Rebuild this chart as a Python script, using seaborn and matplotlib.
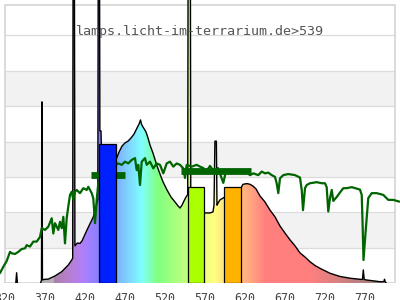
import numpy as np
import matplotlib
matplotlib.use("Agg")
import matplotlib.pyplot as plt
import seaborn as sns
from matplotlib.patches import Polygon

# ---------------- data ----------------
# lamp spectrum (relative intensity, grid lines every 10 units)
lamp_nm = [364.5, 365.6, 366.2, 366.8, 370.0, 374.1, 382.5, 390.9, 399.1, 403.4,
           404.6, 405.2, 406.6, 407.4, 410.4, 413.75, 416.25, 422.5, 430.4, 436.0,
           436.7, 438.0, 438.6, 440.0, 440.5, 445.0, 452.0, 458.0, 459.6, 462.5,
           466.25, 470.0, 473.75, 477.5, 481.25, 485.0, 487.5, 489.4, 490.6, 492.5,
           496.25, 498.75, 501.25, 505.0, 510.0, 513.75, 517.5, 522.5, 527.5, 532.5,
           536.25, 538.75, 541.25, 543.75, 546.25, 548.4, 549.0, 551.6, 552.2, 558.0,
           564.0, 570.0, 576.25, 580.0, 581.25, 582.4, 584.2, 585.0, 586.25, 588.75,
           592.5, 600.0, 608.0, 615.0, 617.5, 622.5, 626.25, 630.0, 633.75, 638.75,
           645.0, 651.25, 657.5, 663.75, 670.0, 676.25, 682.5, 688.75, 695.0, 701.25,
           707.5, 713.75, 726.25, 738.75, 751.25, 763.75, 766.8, 767.9, 769.0, 772.0,
           788.75, 793.6, 794.4, 795.2, 796.5]
lamp_val = [0.0, 0.8, 51.2, 0.9, 1.05, 1.1, 2.0, 3.2, 5.1, 6.5,
            7.0, 110, 110, 10.5, 11.3, 11.2, 11.9, 15.0, 18.7, 23.5,
            110, 110, 43.0, 43.0, 38.0, 36.0, 36.0, 35.0, 35.3, 37.0,
            38.7, 39.6, 40.1, 41.0, 42.1, 43.8, 44.9, 46.1, 44.9, 44.1,
            42.7, 41.0, 39.0, 36.7, 33.1, 30.8, 28.6, 26.3, 24.3, 22.9,
            21.8, 21.2, 22.0, 23.2, 24.3, 25.0, 110, 110, 26.0, 23.5,
            21.0, 19.8, 19.8, 20.1, 22.0, 40.1, 40.1, 22.0, 22.6, 23.5,
            24.0, 25.0, 26.2, 26.9, 27.9, 28.1, 27.9, 27.4, 26.6, 24.6,
            22.9, 20.6, 18.7, 16.1, 14.1, 12.2, 10.5, 8.5, 7.35, 6.0,
            4.95, 4.15, 2.75, 1.85, 1.35, 1.05, 1.0, 3.7, 1.0, 0.85,
            0.37, 0.4, 1.05, 0.4, 0.0]

# small UV line
uv_nm = [333.5, 334.5, 335.5]
uv_val = [0.0, 2.9, 0.0]

# reference (daylight) spectrum, green line
sun_nm = [313.75, 317.9, 322.1, 326.25, 328.4, 332.5, 336.6, 340.9, 345.0, 347.1,
          351.25, 355.4, 359.6, 363.75, 365.9, 370.0, 374.1, 378.4, 380.4, 382.5,
          386.6, 388.75, 390.9, 392.9, 395.0, 397.1, 399.1, 401.25, 403.4, 405.4,
          407.5, 409.6, 413.75, 417.9, 422.1, 424.1, 428.4, 430.4, 432.5, 434.6,
          436.6, 447.5, 458.75, 461.6, 465.9, 470.0, 474.1, 478.4, 482.5, 484.6,
          486.6, 488.75, 490.9, 495.0, 497.1, 501.25, 505.4, 509.6, 513.75, 517.9,
          522.1, 526.25, 530.4, 534.6, 538.75, 542.9, 545.0, 547.1, 553.4, 559.6,
          563.75, 567.9, 571.25, 576.25, 580.0, 583.75, 586.25, 592.9, 596.25, 601.25,
          613.75, 621.25, 626.25, 630.4, 636.6, 640.9, 645.0, 649.1, 653.4, 657.5,
          659.6, 661.6, 663.75, 667.9, 674.1, 682.5, 688.75, 690.9, 692.5, 695.0,
          697.1, 701.25, 709.6, 715.9, 720.0, 722.1, 724.1, 726.25, 728.4, 730.4,
          734.6, 738.75, 742.9, 747.1, 753.4, 759.6, 763.75, 765.9, 767.1, 768.1,
          770.0, 771.25, 774.1, 778.4, 784.6, 792.9, 799.1, 805.4, 812.9]
sun_val = [2.8, 4.6, 6.2, 8.8, 8.4, 8.2, 8.8, 9.6, 9.8, 10.7,
           10.3, 11.7, 11.7, 13.0, 15.5, 15.0, 15.9, 18.3, 14.0, 16.9,
           15.0, 17.3, 15.5, 18.7, 11.2, 18.3, 21.6, 24.9, 25.8, 23.5,
           25.8, 26.3, 25.4, 26.8, 26.3, 27.2, 25.4, 23.9, 16.9, 23.5,
           28.2, 31.9, 33.4, 33.8, 33.4, 34.3, 33.8, 34.8, 35.3, 31.9,
           33.4, 27.7, 34.3, 35.3, 33.4, 34.3, 32.4, 33.8, 33.4, 31.0,
           33.8, 34.3, 32.9, 33.8, 33.4, 32.4, 29.7, 33.4, 32.9, 33.4,
           32.9, 32.5, 31.4, 33.1, 31.9, 31.4, 32.5, 28.3, 31.7, 31.4,
           31.7, 31.4, 30.5, 31.0, 30.5, 31.5, 31.0, 31.2, 30.5, 30.0,
           28.2, 25.4, 29.6, 30.5, 30.8, 30.5, 29.8, 26.3, 20.6, 26.8,
           27.7, 28.2, 28.5, 28.2, 28.2, 27.1, 20.2, 24.0, 26.3, 23.2,
           24.3, 25.6, 26.8, 26.8, 27.1, 26.7, 26.4, 24.9, 15.9, 6.5,
           12.2, 15.9, 24.0, 25.4, 25.4, 24.9, 23.5, 23.5, 23.0]

# dark green band markers
band_start = [427.5, 540.0]
band_end = [470.0, 628.0]
band_level = [30.5, 31.8]

# coloured bars
bar_start = [437.9, 549.1, 594.1]
bar_end = [459.1, 569.1, 614.6]
bar_level = [39.3, 27.2, 27.05]
bar_colors = ["#0020ff", "#aaff00", "#ffb200"]

tick_values = list(range(320, 771, 50))
title_text = "lamps.licht-im-terrarium.de>539"

# ---------------- style ----------------
sns.set_theme(style="white")
plt.rcParams["font.family"] = ["DejaVu Sans Mono"]

XMIN, XMAX = 313.75, 813.75
FRAME_L, FRAME_R, FRAME_T = 320.0, 807.5, 78.5


def wl_color(l):
    if l < 381:
        return (0.71, 0.69, 0.71)
    if l < 440:
        r, g, b = -(l - 440) / 60.0, 0.0, 1.0
    elif l < 490:
        r, g, b = 0.0, (l - 440) / 50.0, 1.0
    elif l < 510:
        r, g, b = 0.0, 1.0, -(l - 510) / 20.0
    elif l < 580:
        r, g, b = (l - 510) / 70.0, 1.0, 0.0
    elif l < 645:
        r, g, b = 1.0, -(l - 645) / 65.0, 0.0
    elif l <= 780:
        r, g, b = 1.0, 0.0, 0.0
    else:
        r, g, b = 0.0, 0.0, 0.0
    if l < 420:
        f = 0.3 + 0.7 * (l - 380) / 40.0
    elif l > 700:
        f = max(0.3 + 0.7 * (780 - l) / 80.0, 0.0)
    else:
        f = 1.0
    return (0.5 + 0.5 * r * f, 0.5 + 0.5 * g * f, 0.5 + 0.5 * b * f)


fig = plt.figure(figsize=(4, 3), dpi=100)
fig.patch.set_facecolor("white")
ax = fig.add_axes([0, 17 / 300, 1, 283 / 300])
ax.set_facecolor("white")
for s in ax.spines.values():
    s.set_visible(False)

# background bands and grid
for lo in (10, 30, 50):
    ax.fill_between([FRAME_L, FRAME_R], lo, lo + 10, color="#f2f2f2", lw=0, zorder=0)
ax.hlines(list(range(10, 80, 10)), FRAME_L, FRAME_R, color="#dcdcdc", lw=0.9, zorder=0.5)
ax.plot([FRAME_L, FRAME_L, FRAME_R, FRAME_R, FRAME_L], [0, FRAME_T, FRAME_T, 0, 0],
        color="#d4d4d4", lw=1.2, zorder=0.6, solid_joinstyle="miter")

# rainbow fill under lamp curve
grid_nm = np.arange(XMIN, XMAX, 2.5)
img = np.array([wl_color(l) for l in grid_nm])[None, :, :]
im = ax.imshow(img, extent=(XMIN, XMAX, 0, 120), aspect="auto", origin="lower",
               interpolation="nearest", zorder=1)
poly = Polygon(np.column_stack([lamp_nm, lamp_val]), closed=True,
               transform=ax.transData, facecolor="none", edgecolor="none")
ax.add_patch(poly)
im.set_clip_path(poly)

# lamp line
sns.lineplot(x=lamp_nm, y=lamp_val, sort=False, estimator=None, color="black",
             lw=1.0, ax=ax, zorder=2)
sns.lineplot(x=uv_nm, y=uv_val, sort=False, estimator=None, color="black",
             lw=1.0, ax=ax, zorder=2)

# daylight line and markers
sns.lineplot(x=sun_nm, y=sun_val, sort=False, estimator=None, color="#006400",
             lw=1.6, ax=ax, zorder=3)
ax.hlines(band_level, band_start, band_end, color="#006400", lw=4.9, zorder=3)

# bars
widths = [e - s for s, e in zip(bar_start, bar_end)]
ax.bar(bar_start, bar_level, width=widths, align="edge", color=bar_colors,
       edgecolor="black", linewidth=0.9, zorder=4)

ax.set_xlim(XMIN, XMAX)
ax.set_ylim(0, 80)
ax.set_yticks([])
ax.set_xticks(tick_values)
ax.set_xticklabels([str(t) for t in tick_values], fontsize=8.4, color="#444444")
ax.tick_params(axis="x", length=0, pad=6.5)
ax.set_xlabel("")
ax.set_ylabel("")

fig.text(0.5, 1 - 31 / 300, title_text, ha="center", va="center",
         fontsize=9.6, color="#555555", family="DejaVu Sans Mono", zorder=10)

fig.savefig("out.png", dpi=100)
